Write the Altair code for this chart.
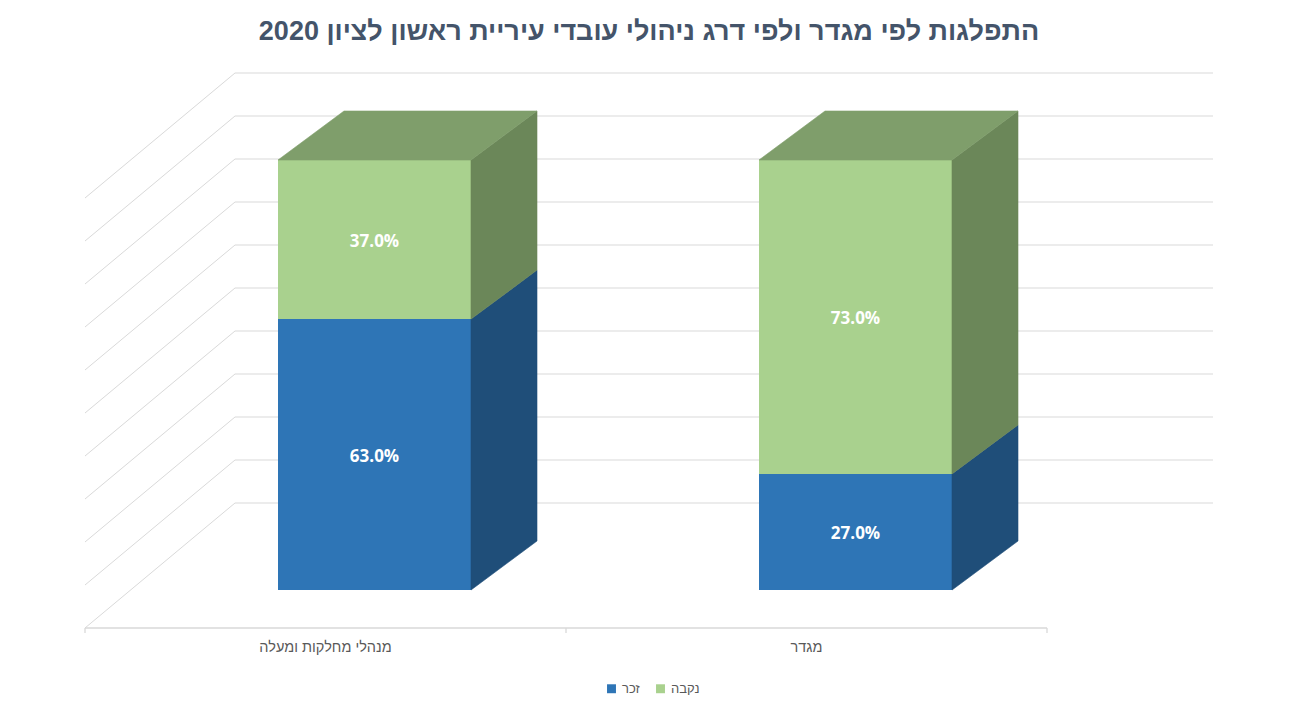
import altair as alt
import pandas as pd

# ---------------- data ----------------
categories = ["מנהלי מחלקות ומעלה", "מגדר"]          # left -> right as displayed
series = ["זכר", "נקבה"]                              # stacked bottom -> top
male = [63.0, 27.0]
female = [37.0, 73.0]
y_ticks = [0, 10, 20, 30, 40, 50, 60, 70, 80, 90, 100]

title_text = "התפלגות לפי מגדר ולפי דרג ניהולי עובדי עיריית ראשון לציון 2020"

front_colors = ["#2E75B6", "#A9D18E"]
side_colors = ["#1F4E79", "#6B8759"]
top_colors = ["#2B6198", "#7F9E6B"]

# ---------------- layout (slot units on x, percent units on y) ----------------
PX_SLOT = 481.0
PX_PCT = 4.3
BAR_W = 193 / PX_SLOT
BAR_SHIFT = 49 / PX_SLOT
BAR_BASE = 38 / PX_PCT
DEPTH_X = 66 / PX_SLOT
DEPTH_Y = 49 / PX_PCT
WALL_DX = 150 / PX_SLOT
WALL_DY = 125 / PX_PCT
XMAX = 1128 / PX_SLOT
YMAX = 555 / PX_PCT
TICK = -5 / PX_PCT
GRID = "#D9D9D9"

xs = alt.Scale(domain=[0, XMAX], nice=False, zero=False)
ys = alt.Scale(domain=[0, YMAX], nice=False, zero=False)


def X(f):
    return alt.X(f"{f}:Q", scale=xs, axis=None)


def Y(f):
    return alt.Y(f"{f}:Q", scale=ys, axis=None)


# ---------------- geometry tables ----------------
values = {series[0]: male, series[1]: female}
front_rows, face_rows, label_rows = [], [], []
for i, cat in enumerate(categories):
    left = i + 0.5 - BAR_W / 2 + BAR_SHIFT
    right = left + BAR_W
    cum = 0.0
    for s_idx, s in enumerate(series):
        v = values[s][i]
        y0 = BAR_BASE + cum
        y1 = y0 + v
        front_rows.append(dict(x=left, x2=right, y=y0, y2=y1, series=s))
        label_rows.append(dict(x=(left + right) / 2, y=(y0 + y1) / 2, label=f"{v:.1f}%"))
        fid = f"side-{i}-{s_idx}"
        face_rows.append(dict(fid=fid, x=right, lo=y0, hi=y1, fill=side_colors[s_idx]))
        face_rows.append(dict(fid=fid, x=right + DEPTH_X, lo=y0 + DEPTH_Y, hi=y1 + DEPTH_Y,
                              fill=side_colors[s_idx]))
        cum += v
        if s_idx == len(series) - 1:
            top = y1
            fid = f"top-{i}"
            c = top_colors[s_idx]
            face_rows += [
                dict(fid=fid, x=left, lo=top, hi=top, fill=c),
                dict(fid=fid, x=left + DEPTH_X, lo=top, hi=top + DEPTH_Y, fill=c),
                dict(fid=fid, x=right, lo=top, hi=top + DEPTH_Y, fill=c),
                dict(fid=fid, x=right + DEPTH_X, lo=top + DEPTH_Y, hi=top + DEPTH_Y, fill=c),
            ]

front_df = pd.DataFrame(front_rows)
face_df = pd.DataFrame(face_rows)
label_df = pd.DataFrame(label_rows)

back_grid = pd.DataFrame({"x": WALL_DX, "x2": XMAX, "y": [WALL_DY + t for t in y_ticks]})
left_grid = pd.DataFrame({"x": 0.0, "x2": WALL_DX, "y": [float(t) for t in y_ticks],
                          "y2": [WALL_DY + t for t in y_ticks]})
axis_line = pd.DataFrame({"x": [0.0], "x2": [float(len(categories))], "y": [0.0]})
axis_ticks = pd.DataFrame({"x": [float(k) for k in range(len(categories) + 1)], "y": 0.0, "y2": TICK})
cat_df = pd.DataFrame({"x": [i + 0.5 for i in range(len(categories))], "y": 0.0, "cat": categories})

# ---------------- layers ----------------
l_back = alt.Chart(back_grid).mark_rule(color=GRID, strokeWidth=1).encode(
    x=X("x"), x2="x2", y=Y("y"))
l_left = alt.Chart(left_grid).mark_rule(color=GRID, strokeWidth=1).encode(
    x=X("x"), x2="x2", y=Y("y"), y2="y2")
l_axis = alt.Chart(axis_line).mark_rule(color=GRID, strokeWidth=1.3).encode(
    x=X("x"), x2="x2", y=Y("y"))
l_ticks = alt.Chart(axis_ticks).mark_rule(color=GRID, strokeWidth=1.3).encode(
    x=X("x"), y=Y("y"), y2="y2")

l_front = alt.Chart(front_df).mark_rect().encode(
    x=X("x"), x2="x2", y=Y("y"), y2="y2",
    color=alt.Color("series:N",
                    scale=alt.Scale(domain=series, range=front_colors),
                    legend=alt.Legend(title=None, orient="none", legendX=520, legendY=609,
                                      direction="horizontal", symbolType="square",
                                      symbolSize=80, symbolStrokeWidth=0,
                                      labelFontSize=13, labelFont="Liberation Sans",
                                      labelColor="#595959", columnPadding=14,
                                      symbolOffset=0)))

l_faces = alt.Chart(face_df).mark_area(strokeWidth=0.6, interpolate="linear").encode(
    x=X("x"), y=Y("hi"), y2="lo",
    detail="fid:N",
    fill=alt.Fill("fill:N", scale=None),
    stroke=alt.Stroke("fill:N", scale=None))

l_labels = alt.Chart(label_df).mark_text(
    color="white", fontSize=17, fontWeight="bold", font="Open Sans",
    baseline="middle", align="center", dy=2).encode(
    x=X("x"), y=Y("y"), text="label:N")

l_cats = alt.Chart(cat_df).mark_text(
    color="#595959", fontSize=14.5, font="Liberation Sans",
    baseline="middle", align="center", dy=20).encode(
    x=X("x"), y=Y("y"), text="cat:N")

chart = alt.layer(
    l_back, l_left, l_axis, l_ticks, l_front, l_faces, l_labels, l_cats
).properties(
    width=1128, height=555,
    padding={"left": 77, "top": 65, "right": 79, "bottom": 77},
    autosize=alt.AutoSizeParams(type="none"),
    title=alt.TitleParams(title_text, fontSize=27, font="Liberation Sans",
                          fontWeight="bold", color="#44546A", anchor="middle",
                          baseline="alphabetic", offset=6),
).configure(background="white", view=alt.ViewConfig(stroke=None))

chart.save("out.html", embed_options={"renderer": "svg", "actions": False})
